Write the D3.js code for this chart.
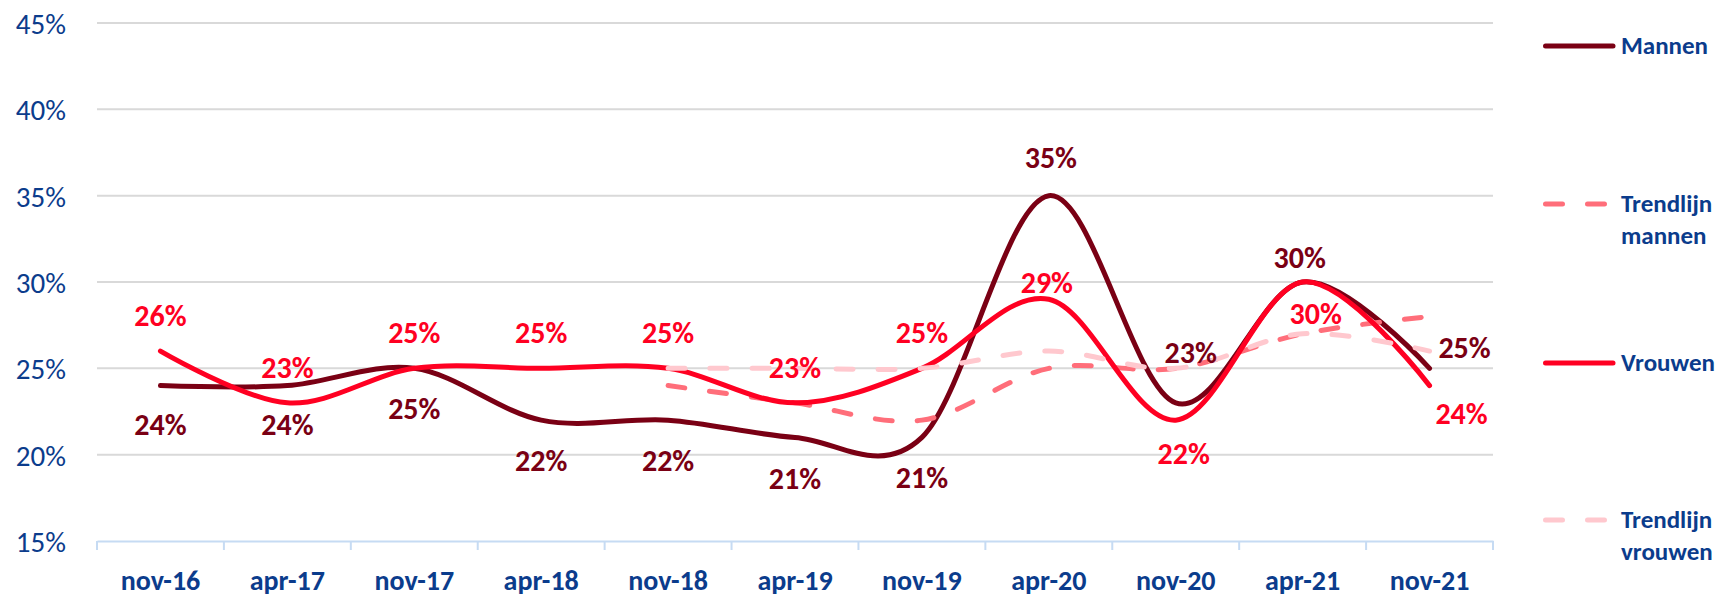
<!DOCTYPE html>
<html>
<head>
<meta charset="utf-8">
<script src="https://cdn.jsdelivr.net/npm/d3@7"></script>
<style>
  body { margin: 0; background: #fff; }
  svg { display: block; font-family: Calibri, Carlito, Lato, sans-serif; }
</style>
</head>
<body>
<script>
// Categories and series (percent)
var categories = ["nov-16", "apr-17", "nov-17", "apr-18", "nov-18", "apr-19", "nov-19", "apr-20", "nov-20", "apr-21", "nov-21"];
var mannen = [24, 24, 25, 22, 22, 21, 21, 35, 23, 30, 25];
var vrouwen = [26, 23, 25, 25, 25, 23, 25, 29, 22, 30, 24];
var trendMannen = [null, null, null, null, 24, 23, 22, 25, 25, 27, 28];
var trendVrouwen = [null, null, null, null, 25, 25, 25, 26, 25, 27, 26];
var yTicks = [15, 20, 25, 30, 35, 40, 45];

// label placement relative to the point (dx, dy of the label centre)
var mannenLabelPos = [[0, 39], [0, 39], [0, 40], [0, 40], [0, 40], [0, 41], [0, 40], [2, -38], [15, -51], [-3, -25], [35, -21]];
var vrouwenLabelPos = [[0, -36], [0, -36], [0, -36], [0, -36], [0, -36], [0, -36], [0, -36], [-2, -17], [8, 33], [13, 31], [32, 28]];

var width = 1723,
    height = 597,
    plotLeft = 97,
    plotRight = 1493,
    plotTop = 23,
    plotBottom = 541;

var blue = "#0b3c8c";
var fontFamily = "Calibri, Carlito, Lato, sans-serif";

var svg = d3.select("body").append("svg")
    .attr("width", width)
    .attr("height", height);

var x = d3.scaleBand().domain(categories).range([plotLeft, plotRight]);
var y = d3.scaleLinear().domain([15, 45]).range([plotBottom, plotTop]);

function cx(i) {
    return x(categories[i]) + x.bandwidth() / 2;
}

// gridlines
svg.append("g").selectAll("line")
    .data(yTicks.filter(function (d) { return d > 15; }))
    .enter().append("line")
    .attr("x1", plotLeft)
    .attr("x2", plotRight)
    .attr("y1", function (d) { return y(d); })
    .attr("y2", function (d) { return y(d); })
    .attr("stroke", "#d9d9d9")
    .attr("stroke-width", 2);

// y axis
var yAxis = svg.append("g")
    .attr("transform", "translate(" + plotLeft + ",0)")
    .call(d3.axisLeft(y).tickValues(yTicks).tickFormat(function (d) { return d + "%"; }).tickSize(0).tickPadding(31))
    .attr("font-family", fontFamily)
    .attr("font-size", null);
yAxis.select(".domain").remove();
yAxis.selectAll("text")
    .attr("fill", blue)
    .style("font-size", "29px")
    .attr("dy", "0.36em");

// x axis
var xAxis = svg.append("g")
    .attr("transform", "translate(0," + plotBottom + ")")
    .call(d3.axisBottom(x).tickSize(0))
    .attr("font-family", fontFamily)
    .attr("font-size", null);
xAxis.select(".domain")
    .attr("stroke", "#c6dbf3")
    .attr("stroke-width", 2);
xAxis.selectAll("text")
    .attr("fill", blue)
    .attr("y", 49)
    .attr("dy", null)
    .style("font-size", "28px")
    .style("font-weight", "bold");

// boundary ticks
var bounds = categories.map(function (c) { return x(c); }).concat([plotRight]);
svg.append("g").selectAll("line")
    .data(bounds)
    .enter().append("line")
    .attr("x1", function (d) { return d; })
    .attr("x2", function (d) { return d; })
    .attr("y1", plotBottom)
    .attr("y2", plotBottom + 9)
    .attr("stroke", "#c6dbf3")
    .attr("stroke-width", 2);

var line = d3.line()
    .defined(function (d) { return d != null; })
    .x(function (d, i) { return cx(i); })
    .y(function (d) { return y(d); })
    .curve(d3.curveCardinal.tension(0));

var series = [
    { name: "Mannen", values: mannen, color: "#7a0014", dash: null },
    { name: "Trendlijn mannen", values: trendMannen, color: "#ff6e7a", dash: "17,25" },
    { name: "Vrouwen", values: vrouwen, color: "#ff0022", dash: null },
    { name: "Trendlijn vrouwen", values: trendVrouwen, color: "#ffc8ce", dash: "17,25" }
];

series.forEach(function (s) {
    svg.append("path")
        .datum(s.values)
        .attr("fill", "none")
        .attr("stroke", s.color)
        .attr("stroke-width", 5)
        .attr("stroke-linecap", "round")
        .attr("stroke-dasharray", s.dash)
        .attr("d", line);
});

// data labels
function labels(values, pos, color) {
    svg.append("g").selectAll("text")
        .data(values)
        .enter().append("text")
        .attr("x", function (d, i) { return cx(i) + pos[i][0]; })
        .attr("y", function (d, i) { return y(d) + pos[i][1]; })
        .attr("dy", "0.36em")
        .attr("text-anchor", "middle")
        .attr("fill", color)
        .style("font-size", "30px")
        .style("font-weight", "bold")
        .text(function (d) { return d + "%"; });
}
labels(mannen, mannenLabelPos, "#7a0014");
labels(vrouwen, vrouwenLabelPos, "#ff0022");

// legend
var legendY = [46, 204, 363, 520];
var legend = svg.append("g").selectAll("g")
    .data(series)
    .enter().append("g")
    .attr("transform", function (d, i) { return "translate(0," + legendY[i] + ")"; });

legend.append("line")
    .attr("x1", 1545.5)
    .attr("x2", function (d) { return d.dash ? 1605 : 1613; })
    .attr("stroke", function (d) { return d.color; })
    .attr("stroke-width", 5)
    .attr("stroke-linecap", "round")
    .attr("stroke-dasharray", function (d) { return d.dash; });

legend.each(function (d) {
    var words = d.name.split(" ");
    var t = d3.select(this).append("text")
        .attr("x", 1621)
        .attr("y", 8)
        .attr("fill", blue)
        .style("font-size", "25px")
        .style("font-weight", "bold");
    words.forEach(function (w, j) {
        t.append("tspan")
            .attr("x", 1621)
            .attr("dy", j === 0 ? 0 : 32)
            .text(w);
    });
});
</script>
</body>
</html>
